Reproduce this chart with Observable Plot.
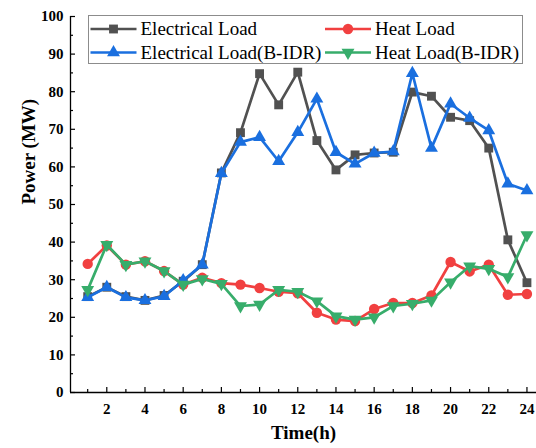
<!DOCTYPE html>
<html>
<head>
<meta charset="utf-8">
<script src="https://cdn.jsdelivr.net/npm/d3@7"></script>
<script src="https://cdn.jsdelivr.net/npm/@observablehq/plot@0.6"></script>
<style>
  html, body { margin: 0; padding: 0; background: #fff; }
  #chart { width: 536px; height: 448px; }
</style>
</head>
<body>
<div id="chart"></div>
<script>
const hours = [1,2,3,4,5,6,7,8,9,10,11,12,13,14,15,16,17,18,19,20,21,22,23,24];
const electricalLoad = [25.5,28,25.5,24.5,25.8,29.6,34,58.4,69.1,84.8,76.5,85.2,67.0,59.2,63.2,63.7,63.9,79.9,78.8,73.2,72.3,65.0,40.6,29.2];
const heatLoad = [34.2,39.1,34.0,34.9,32.3,28.7,30.5,29.1,28.7,27.8,26.8,26.4,21.2,19.4,19.0,22.2,23.8,23.8,25.8,34.7,32.2,34.0,26.0,26.2];
const electricalLoadBIDR = [25.3,28.0,25.3,24.5,25.6,29.8,34.0,58.3,66.6,67.9,61.5,69.2,78.1,63.9,60.8,63.7,64.1,84.9,65.0,76.8,73.0,69.7,55.5,53.7];
const heatLoadBIDR = [27.3,39.3,34.0,34.9,32.3,28.7,30.2,28.9,23.0,23.4,27.3,26.8,24.3,20.3,19.4,20.0,23.0,23.6,24.5,29.3,33.6,32.9,30.7,41.9];

const seriesNames = ["Electrical Load","Heat Load","Electrical Load(B-IDR)","Heat Load(B-IDR)"];
const seriesColors = ["#515151","#F14040","#1A6FDF","#37AD6B"];
const seriesSymbols = ["square","circle","triangle","triangle"];
const seriesRotate = [0,0,0,180];
const seriesR = [5,5.2,4.8,4.8];

const xMajorTicks = [2,4,6,8,10,12,14,16,18,20,22,24];
const xMinorTicks = [1,3,5,7,9,11,13,15,17,19,21,23];
const yMajorTicks = [0,10,20,30,40,50,60,70,80,90,100];
const yMinorTicks = [5,15,25,35,45,55,65,75,85,95];

const xDomain = [0.1, 24.5];
const yDomain = [0, 100];

const allSeries = [electricalLoad, heatLoad, electricalLoadBIDR, heatLoadBIDR];
const rows = [];
allSeries.forEach((vals, s) => vals.forEach((v, i) => rows.push({series: seriesNames[s], idx: s, hour: hours[i], value: v})));

const font = "'Liberation Serif', 'Times New Roman', serif";

const marks = [];
[0,1,2,3].forEach(s => {
  const d = rows.filter(r => r.idx === s);
  marks.push(Plot.line(d, {x: "hour", y: "value", stroke: seriesColors[s], strokeWidth: 2.7}));
  marks.push(Plot.dot(d, {x: "hour", y: "value", fill: seriesColors[s], stroke: "none", symbol: seriesSymbols[s], r: seriesR[s], rotate: seriesRotate[s]}));
});

const chart = Plot.plot({
  width: 536,
  height: 448,
  marginLeft: 70,
  marginRight: 0,
  marginTop: 16,
  marginBottom: 56,
  style: {fontFamily: font, background: "#fff", color: "#000"},
  x: {domain: xDomain, label: null},
  y: {domain: yDomain, label: null},
  marks: [
    ...marks,
    Plot.ruleX([xDomain[0]], {stroke: "#000", strokeWidth: 1.3}),
    Plot.ruleY([yDomain[0]], {stroke: "#000", strokeWidth: 1.3}),
    Plot.axisX(xMajorTicks, {tickSize: -5, tickFormat: () => "", strokeWidth: 1.2}),
    Plot.axisX(xMinorTicks, {tickSize: -3, tickFormat: () => "", strokeWidth: 1.2}),
    Plot.axisX(xMajorTicks, {tickSize: 0, tickPadding: 11, fontSize: 15, fontWeight: "bold"}),
    Plot.axisY(yMajorTicks, {tickSize: -5, tickFormat: () => "", strokeWidth: 1.2}),
    Plot.axisY(yMinorTicks, {tickSize: -3, tickFormat: () => "", strokeWidth: 1.2}),
    Plot.axisY(yMajorTicks, {tickSize: 0, tickPadding: 7, fontSize: 15, fontWeight: "bold"}),
    Plot.text(["Power (MW)"], {frameAnchor: "left", rotate: -90, dx: -42, fontSize: 19, fontWeight: "bold"}),
    Plot.text(["Time(h)"], {frameAnchor: "bottom", dy: 46, fontSize: 19, fontWeight: "bold"})
  ]
});

document.getElementById("chart").appendChild(chart);

// legend inside the plot area
const svg = d3.select(chart);
const lg = svg.append("g")
  .style("font-family", font).style("font-size", "19px").style("font-weight", "normal")
  .attr("text-anchor", "start");
lg.append("rect").attr("x", 88.5).attr("y", 15.5).attr("width", 434).attr("height", 48)
  .attr("fill", "#fff").attr("stroke", "#8c8c8c").attr("stroke-width", 1);
const legendPos = [
  {s: 0, x: 90.5, y: 29},
  {s: 1, x: 325, y: 29},
  {s: 2, x: 90.5, y: 52.5},
  {s: 3, x: 325, y: 52.5}
];
legendPos.forEach(p => {
  const c = seriesColors[p.s];
  lg.append("line").attr("x1", p.x).attr("x2", p.x + 46).attr("y1", p.y).attr("y2", p.y)
    .attr("stroke", c).attr("stroke-width", 2.7);
  const sym = {square: d3.symbolSquare, circle: d3.symbolCircle, triangle: d3.symbolTriangle}[seriesSymbols[p.s]];
  const r = seriesR[p.s];
  lg.append("path").attr("d", d3.symbol(sym, Math.PI * r * r)())
    .attr("transform", `translate(${p.x + 23},${p.y}) rotate(${seriesRotate[p.s]})`)
    .attr("fill", c);
  lg.append("text").attr("x", p.x + 50).attr("y", p.y).attr("dy", "0.34em").attr("fill", "#000")
    .attr("text-anchor", "start")
    .style("font-family", font).style("font-size", "19px")
    .text(seriesNames[p.s]);
});
</script>
</body>
</html>
